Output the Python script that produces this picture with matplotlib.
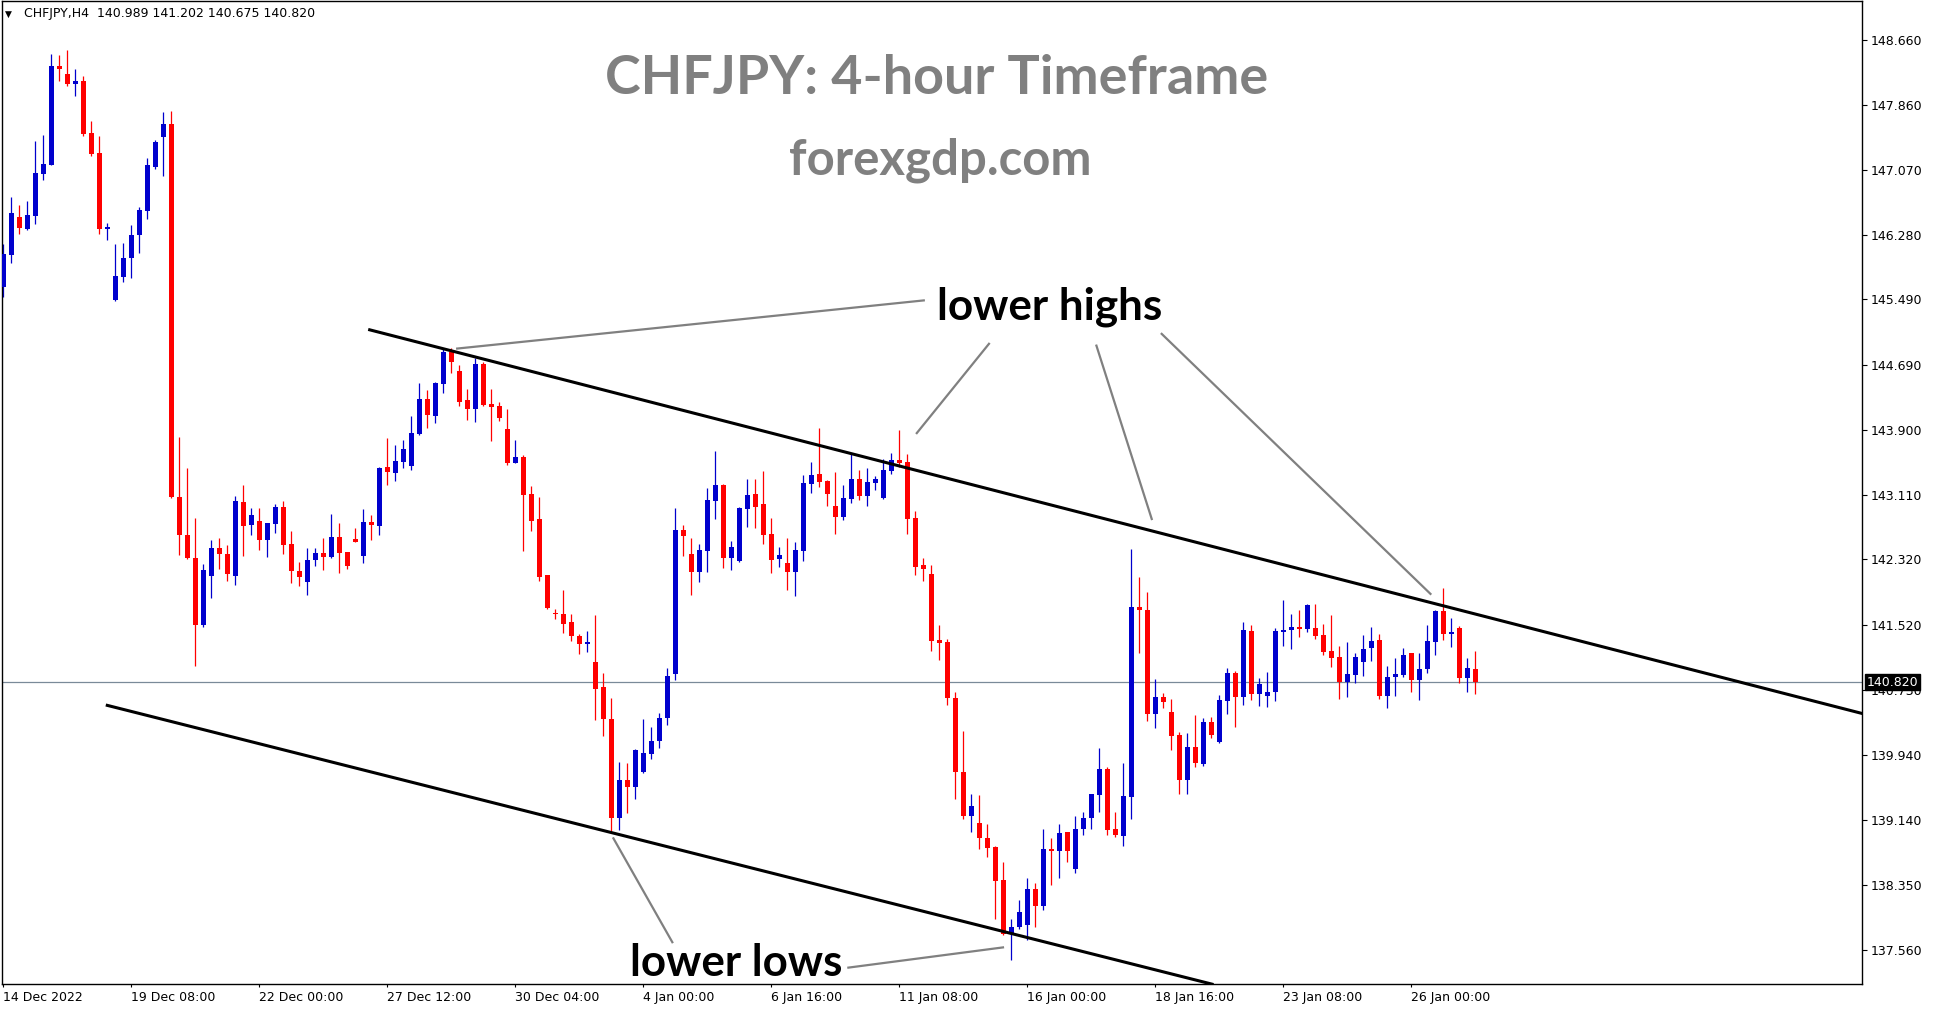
import numpy as np
import matplotlib
matplotlib.use("Agg")
import matplotlib.pyplot as plt

# CHFJPY H4 candles (bar 0 = first bar on the left)
opens = [145.646, 146.036, 146.492, 146.353, 146.512, 147.024, 147.135, 148.337, 148.240, 148.121,
         148.154, 147.520, 147.276, 146.353, 145.487, 145.764, 145.996, 146.276, 146.569, 147.105,
         147.471, 147.630, 143.081, 142.612, 142.341, 141.524, 142.121, 142.458, 142.392, 142.121,
         143.018, 142.742, 142.788, 142.560, 142.757, 142.957, 142.509, 142.173, 142.047, 142.318,
         142.397, 142.349, 142.593, 142.410, 142.570, 142.364, 142.775, 142.732, 143.447, 143.377,
         143.512, 143.463, 143.849, 144.276, 144.072, 144.463, 144.849, 144.618, 144.264, 144.158,
         144.703, 144.215, 144.191, 143.910, 143.499, 143.569, 143.118, 142.813, 142.130, 141.670,
         141.654, 141.557, 141.386, 141.292, 141.069, 140.764, 140.377, 139.170, 139.630, 139.548,
         139.731, 139.950, 140.100, 140.380, 140.920, 142.679, 142.386, 142.166, 142.423, 143.032,
         143.227, 142.341, 142.301, 142.935, 143.118, 142.996, 142.630, 142.325, 142.276, 142.166,
         142.423, 143.240, 143.362, 143.276, 142.971, 142.837, 143.057, 143.301, 143.093, 143.252,
         143.069, 143.398, 143.532, 143.508, 142.825, 142.252, 142.142, 141.337, 141.313, 140.632,
         139.730, 139.196, 139.105, 138.923, 138.813, 138.410, 137.766, 137.835, 137.860, 138.301,
         138.096, 138.793, 138.768, 138.990, 138.549, 139.037, 139.170, 139.452, 139.764, 139.037,
         138.952, 139.421, 141.740, 141.705, 140.440, 140.642, 140.459, 140.179, 139.630, 140.032,
         139.825, 140.337, 140.093, 140.593, 140.935, 140.642, 141.447, 140.679, 140.654, 140.703,
         141.435, 141.459, 141.496, 141.471, 141.484, 141.398, 141.203, 141.130, 140.825, 140.910,
         141.069, 141.240, 141.337, 140.654, 140.886, 140.910, 141.179, 140.849, 140.984, 141.313,
         141.691, 141.410, 141.484, 140.874, 140.989]
highs = [146.166, 146.740, 146.642, 146.691, 147.423, 147.496, 148.484, 148.471, 148.532, 148.301,
         148.215, 147.666, 147.484, 146.423, 146.166, 146.179, 146.398, 146.618, 147.215, 147.435,
         147.776, 147.788, 143.810, 143.432, 142.826, 142.262, 142.555, 142.579, 142.496, 143.092,
         143.227, 142.947, 142.947, 142.770, 142.994, 143.031, 142.668, 142.290, 142.458, 142.458,
         142.579, 142.873, 142.770, 142.415, 142.700, 142.934, 142.859, 143.442, 143.802, 143.713,
         143.776, 144.069, 144.475, 144.386, 144.487, 144.886, 144.900, 144.691, 144.398, 144.776,
         144.727, 144.398, 144.240, 144.154, 143.776, 143.593, 143.215, 143.081, 142.130, 141.719,
         141.951, 141.654, 141.410, 141.447, 141.642, 140.938, 140.634, 139.849, 139.841, 140.012,
         140.377, 140.280, 140.450, 141.000, 142.947, 142.740, 142.581, 142.508, 143.191, 143.642,
         143.240, 142.544, 142.959, 143.301, 143.301, 143.398, 142.825, 142.471, 142.581, 142.532,
         143.349, 143.508, 143.922, 143.288, 143.386, 143.227, 143.605, 143.410, 143.435, 143.337,
         143.544, 143.618, 143.898, 143.605, 142.910, 142.337, 142.253, 141.522, 141.351, 140.705,
         140.226, 139.460, 139.447, 139.092, 138.831, 138.631, 137.934, 138.169, 138.434, 138.374,
         139.032, 138.921, 139.092, 139.000, 139.186, 139.238, 139.460, 140.020, 139.785, 139.238,
         139.837, 142.446, 142.104, 141.924, 140.863, 140.691, 140.618, 140.215, 140.203, 140.423,
         140.386, 140.398, 140.667, 140.996, 140.959, 141.557, 141.520, 140.874, 140.947, 141.484,
         141.825, 141.654, 141.703, 141.776, 141.776, 141.532, 141.642, 141.264, 141.313, 141.179,
         141.398, 141.496, 141.410, 141.020, 141.118, 141.240, 141.180, 141.179, 141.520, 141.703,
         141.971, 141.605, 141.508, 141.118, 141.202]
lows = [145.516, 145.938, 146.292, 146.340, 146.414, 146.951, 147.125, 148.158, 148.097, 147.975,
        147.487, 147.243, 146.292, 146.219, 145.471, 145.703, 145.752, 146.057, 146.471, 147.081,
        146.996, 143.069, 142.379, 142.326, 141.025, 141.501, 141.855, 142.205, 142.060, 142.014,
        142.364, 142.616, 142.438, 142.354, 142.644, 142.392, 142.032, 141.996, 141.888, 142.243,
        142.196, 142.341, 142.159, 142.205, 142.537, 142.280, 142.560, 142.612, 143.232, 143.279,
        143.438, 143.414, 143.837, 143.926, 143.987, 144.353, 144.597, 144.191, 144.024, 143.999,
        144.191, 143.768, 144.012, 143.475, 143.490, 142.426, 142.670, 142.060, 141.719, 141.597,
        141.426, 141.329, 141.170, 141.194, 140.365, 140.170, 138.987, 139.024, 139.231, 139.402,
        139.719, 139.880, 140.020, 140.300, 140.850, 142.365, 141.886, 142.044, 142.166, 142.813,
        142.215, 142.191, 142.290, 142.715, 142.703, 142.508, 142.154, 142.227, 141.947, 141.874,
        142.301, 143.130, 143.203, 142.971, 142.630, 142.801, 143.008, 143.044, 142.971, 143.166,
        143.057, 143.362, 143.447, 142.630, 142.130, 142.057, 141.205, 141.094, 140.547, 139.401,
        139.157, 138.990, 138.793, 138.686, 137.937, 137.740, 137.432, 137.818, 137.681, 137.843,
        138.041, 138.348, 138.438, 138.635, 138.490, 138.964, 139.037, 139.234, 138.964, 138.930,
        138.831, 139.157, 141.184, 140.354, 140.269, 140.508, 139.996, 139.459, 139.459, 139.788,
        139.801, 140.142, 140.081, 140.435, 140.276, 140.544, 140.605, 140.532, 140.520, 140.593,
        141.264, 141.227, 141.374, 141.435, 141.349, 141.154, 141.008, 140.618, 140.642, 140.813,
        140.898, 141.081, 140.618, 140.508, 140.654, 140.886, 140.703, 140.605, 140.935, 141.154,
        141.337, 141.252, 140.813, 140.703, 140.675]
closes = [146.044, 146.544, 146.365, 146.520, 147.032, 147.142, 148.337, 148.304, 148.121, 148.154,
          147.512, 147.268, 146.353, 146.374, 145.776, 145.996, 146.276, 146.581, 147.130, 147.410,
          147.630, 143.081, 142.612, 142.341, 141.524, 142.191, 142.458, 142.392, 142.136, 143.031,
          142.732, 142.859, 142.560, 142.765, 142.957, 142.499, 142.173, 142.108, 142.313, 142.397,
          142.354, 142.593, 142.402, 142.243, 142.537, 142.775, 142.742, 143.432, 143.391, 143.520,
          143.666, 143.862, 144.276, 144.085, 144.475, 144.849, 144.731, 144.243, 144.158, 144.703,
          144.203, 144.182, 144.048, 143.499, 143.569, 143.109, 142.792, 142.109, 141.731, 141.658,
          141.536, 141.390, 141.292, 141.313, 140.743, 140.377, 139.170, 139.630, 139.548, 139.996,
          139.959, 140.110, 140.380, 140.900, 142.679, 142.605, 142.166, 142.435, 143.044, 143.227,
          142.341, 142.471, 142.947, 143.105, 142.959, 142.618, 142.313, 142.374, 142.166, 142.435,
          143.252, 143.349, 143.264, 143.118, 142.837, 143.069, 143.301, 143.093, 143.264, 143.301,
          143.410, 143.532, 143.496, 142.813, 142.227, 142.203, 141.325, 141.304, 140.632, 139.730,
          139.196, 139.315, 138.918, 138.805, 138.404, 137.749, 137.840, 138.019, 138.301, 138.096,
          138.788, 138.768, 138.986, 138.768, 139.032, 139.165, 139.455, 139.764, 139.024, 138.964,
          139.435, 141.740, 141.705, 140.440, 140.641, 140.581, 140.166, 139.630, 140.032, 139.837,
          140.337, 140.179, 140.605, 140.935, 140.642, 141.459, 140.679, 140.801, 140.703, 141.447,
          141.459, 141.496, 141.471, 141.764, 141.386, 141.191, 141.118, 140.825, 140.923, 141.130,
          141.227, 141.325, 140.654, 140.886, 140.923, 141.154, 140.849, 140.984, 141.325, 141.691,
          141.410, 141.435, 140.874, 140.996, 140.820]

price_ticks = [148.660, 147.860, 147.070, 146.280, 145.490, 144.690, 143.900, 143.110,
               142.320, 141.520, 140.730, 139.940, 139.140, 138.350, 137.560]
date_ticks = [0, 16, 32, 48, 64, 80, 96, 112, 128, 144, 160, 176]
date_labels = ["14 Dec 2022", "19 Dec 08:00", "22 Dec 00:00", "27 Dec 12:00", "30 Dec 04:00",
               "4 Jan 00:00", "6 Jan 16:00", "11 Jan 08:00", "16 Jan 00:00", "18 Jan 16:00",
               "23 Jan 08:00", "26 Jan 00:00"]
last_price = 140.820

# channel lines (bar index, price)
upper_line = ([45.8, 232.4], [145.12, 140.44])
lower_line = ([13.0, 151.1], [140.54, 137.14])

# pointer lines for the annotations (bar index, price)
high_pointers = [([56.6, 115.2], [144.89, 145.48]),
                 ([114.1, 123.3], [143.85, 144.96]),
                 ([143.6, 136.6], [142.80, 144.94]),
                 ([178.5, 144.7], [141.89, 145.08])]
low_pointers = [([76.2, 83.7], [138.93, 137.64]),
                ([105.5, 125.1], [137.34, 137.59])]

W, H = 1934, 1011
BLUE = "#0000cd"
RED = "#ff0000"
GRAY = "#808080"

fig = plt.figure(figsize=(W / 100, H / 100), dpi=100)
ax = fig.add_axes([2 / W, (H - 984) / H, 1860 / W, 983 / H])

o = np.array(opens)
h = np.array(highs)
l = np.array(lows)
c = np.array(closes)
x = np.arange(len(o))
up = c >= o
cols = np.where(up, BLUE, RED)

ax.vlines(x, l, h, colors=cols, linewidth=0.9, zorder=2)
body_low = np.minimum(o, c)
body_h = np.maximum(np.abs(c - o), 0.014)
ax.bar(x, body_h, bottom=body_low, width=0.625, color=cols, linewidth=0, zorder=3)

ax.axhline(last_price, color="#7a8a99", linewidth=0.9, zorder=1)

ax.plot(*upper_line, color="black", linewidth=2.2, zorder=4)
ax.plot(*lower_line, color="black", linewidth=2.2, zorder=4)
for xs, ys in high_pointers + low_pointers:
    ax.plot(xs, ys, color=GRAY, linewidth=1.6, zorder=4, solid_capstyle="butt")

ax.set_xlim(-0.16, 232.34)
ax.set_ylim(137.142, 149.130)

ax.yaxis.tick_right()
ax.set_yticks(price_ticks)
ax.set_yticklabels([f"{v:.3f}" for v in price_ticks])
ax.set_xticks(date_ticks)
ax.set_xticklabels(date_labels, ha="left")
ax.tick_params(axis="y", direction="out", length=3.6, width=0.8, pad=2.5,
               labelsize=9, labelcolor="black")
ax.tick_params(axis="x", direction="out", length=2.5, width=0.8, pad=2.5,
               labelsize=9, labelcolor="black")
for sp in ax.spines.values():
    sp.set_linewidth(1.0)
    sp.set_color("black")

# current price box on the price scale
ax.annotate(f"{last_price:.3f}", xy=(1.0, last_price), xycoords=("axes fraction", "data"),
            xytext=(3.2, 0), textcoords="offset points", ha="left", va="center",
            fontsize=9, color="white", zorder=20, annotation_clip=False,
            bbox=dict(boxstyle="square,pad=0.12", fc="black", ec="black"))

# header line of the chart window
fig.text(5 / W, 1 - 14 / H, "\u25bc", fontsize=6.5, va="center", ha="left")
fig.text(24 / W, 1 - 14 / H,
         f"CHFJPY,H4  {opens[-1]:.3f} {highs[-1]:.3f} {lows[-1]:.3f} {closes[-1]:.3f}",
         fontsize=9, va="center", ha="left")


def fit(t, target_px):
    r = fig.canvas.get_renderer()
    w = t.get_window_extent(renderer=r).width
    t.set_fontsize(t.get_fontsize() * target_px / w)


def put(px, py, s, color, size, width):
    t = fig.text(px / W, 1 - py / H, s, family="Lato", weight="bold", color=color,
                 fontsize=size, ha="center", va="center")
    fit(t, width)
    return t


put(937, 78, "CHFJPY: 4-hour Timeframe", GRAY, 44, 662)
put(940, 160, "forexgdp.com", GRAY, 34, 303)
put(1050, 307, "lower highs", "black", 34, 226)
put(736, 963, "lower lows", "black", 34, 213)

fig.savefig("out.png", dpi=100)
